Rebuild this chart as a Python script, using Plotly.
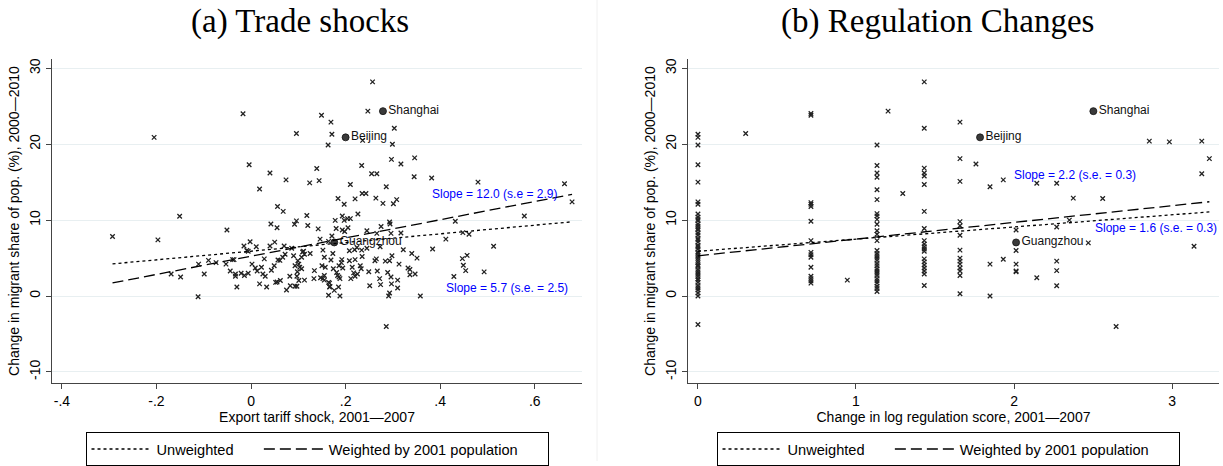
import plotly.graph_objects as go

# ---------------- Panel (a): export tariff shocks ----------------
tariff_shock = [
    -0.293, -0.205, -0.197, -0.151, -0.169, -0.149, -0.112, -0.111, -0.099, -0.090,
    -0.074, -0.051, -0.053, -0.044, -0.039, -0.036, -0.033, -0.033, -0.030, -0.021,
    -0.017, -0.015, -0.009, -0.006, -0.014, -0.006, -0.004, -0.002, 0.002, 0.011,
    0.009, 0.013, 0.018, 0.018, 0.022, 0.025, 0.030, 0.028, 0.033, 0.040,
    0.040, 0.042, 0.043, 0.050, 0.049, 0.052, 0.055, 0.056, 0.055, 0.057,
    0.061, 0.062, 0.068, 0.067, 0.070, 0.072, 0.074, 0.075, 0.082, 0.083,
    0.086, 0.090, 0.092, 0.096, 0.093, 0.097, 0.096, 0.097, 0.098, 0.099,
    0.101, 0.103, 0.101, 0.107, 0.109, 0.113, 0.113, 0.118, 0.120, 0.125,
    0.124, 0.133, 0.134, 0.139, 0.142, 0.144, 0.107, 0.093, 0.149, 0.169,
    0.171, 0.163, 0.210, 0.184, 0.197, 0.220, 0.193, 0.204, 0.210, 0.226,
    0.178, 0.197, 0.180, 0.193, 0.198, 0.205, 0.146, 0.164, 0.171, 0.257,
    0.247, 0.303, 0.299, 0.236, 0.297, 0.317, 0.346, 0.234, 0.255, 0.266,
    0.286, 0.345, 0.382, 0.480, 0.235, 0.243, 0.264, 0.279, 0.301, 0.308,
    0.275, 0.293, 0.294, 0.432, 0.578, 0.245, 0.266, 0.296, 0.317, 0.448,
    0.461, 0.412, 0.513, 0.384, 0.447, 0.457, 0.449, 0.454, 0.429, 0.493,
    0.358, 0.286, 0.340, 0.351, 0.347, 0.336, 0.332, 0.336, 0.322, 0.313,
    0.310, 0.310, 0.297, 0.296, 0.289, 0.298, 0.293, 0.284, 0.291, 0.293,
    0.274, 0.272, 0.267, 0.262, 0.265, 0.249, 0.251, 0.231, 0.233, 0.225,
    0.220, 0.211, 0.217, 0.214, 0.208, 0.220, 0.235, 0.234, 0.219, 0.208,
    0.192, 0.191, 0.186, 0.194, 0.181, 0.183, 0.186, 0.188, 0.185, 0.176,
    0.167, 0.164, 0.188, 0.166, 0.155, 0.155, 0.152, 0.147, 0.157, 0.150,
    0.169, 0.174, 0.173, 0.152, 0.111, 0.155, 0.663, 0.679, 0.164, 0.166,
    0.224, 0.273, 0.245,
]
migrant_change_a = [
    7.84, 20.9, 7.4, 10.5, 2.9, 2.5, -0.1, 4.2, 2.9, 4.7,
    4.4, 8.7, 4.2, 3.3, 4.8, 4.8, 2.9, 2.6, 1.2, 3.0,
    24.0, 6.6, 6.0, 5.9, 2.7, 3.0, 17.3, 7.15, 4.2, 6.5,
    3.7, 3.3, 14.1, 1.6, 3.8, 2.9, 2.6, 4.9, 1.2, 16.2,
    6.6, 9.5, 3.4, 7.1, 4.0, 1.8, 1.85, 11.8, 9.0, 4.75,
    4.7, 2.05, 11.15, 5.1, 6.6, 5.5, 15.3, 0.8, 2.6, 1.35,
    6.3, 5.3, 9.45, 9.9, 1.3, 1.3, 21.4, 2.6, 3.2, 4.65,
    4.2, 3.8, 2.05, 3.6, 5.8, 5.5, 2.1, 10.6, 9.3, 5.6,
    14.9, 2.3, 3.35, 16.8, 8.85, 15.2, 5.1, 4.0, 23.8, 22.9,
    21.3, 19.9, 14.7, 12.85, 12.1, 12.8, 10.55, 10.2, 10.2, 10.8,
    9.97, 9.97, 8.9, 8.7, 8.5, 9.0, 7.5, 7.2, 7.9, 28.2,
    24.35, 22.1, 20.0, 20.5, 18.0, 17.4, 18.2, 17.2, 16.1, 16.1,
    14.4, 15.7, 15.55, 15.0, 13.5, 13.5, 12.9, 12.2, 12.15, 12.7,
    9.15, 9.75, 9.5, 9.85, 10.55, 8.6, 8.25, 8.25, 8.3, 8.35,
    8.15, 7.5, 6.55, 6.2, 4.93, 5.36, 4.05, 3.35, 2.57, 3.18,
    0.0, -4.0, 5.6, 5.0, 2.9, 2.8, 3.7, 3.5, 6.1, 4.2,
    2.1, 1.05, 1.6, 2.5, 3.1, 5.3, 4.65, 4.6, 0.0, 0.4,
    1.5, 2.3, 3.3, 4.65, 4.9, 3.2, 1.35, 4.0, 3.6, 2.9,
    2.6, 2.3, 3.05, 3.8, 4.65, 4.8, 5.2, 6.05, 6.1, 5.97,
    4.8, 4.4, 4.0, 3.7, 3.1, 2.7, 2.5, 2.3, 1.2, 0.75,
    1.25, 0.1, 0.0, 1.7, 2.7, 2.1, 2.3, 2.4, 3.8, 4.0,
    4.75, 3.6, 5.6, 6.05, 5.9, 5.1, 14.8, 12.4, 1.8, 1.2,
    6.4, 6.5, 6.3,
]

city_names = ["Shanghai", "Beijing", "Guangzhou"]
city_tariff = [0.279, 0.200, 0.176]
city_change = [24.35, 20.9, 7.06]

# fitted lines for panel (a): slope, standard error, intercept
slope_a_unw, se_a_unw, icpt_a_unw = 5.7, 2.5, 5.91
slope_a_w, se_a_w, icpt_a_w = 12.0, 2.9, 5.25

# ---------------- Panel (b): regulation changes ----------------
# cities sharing the same regulation change stack up in columns
reg_levels = [0.0, 0.715, 1.133, 1.432, 1.658, 2.013]
reg_col0 = [21.3, 20.9, 19.9, 17.3, 15.0, 12.4, 12.1, 10.8, 10.4, 10.1, 9.9, 9.5,
            9.2, 8.9, 8.7, 8.3, 8.0, 7.6, 7.4, 7.1, 6.7, 6.5, 6.2, 5.8, 5.6, 5.3,
            5.0, 4.7, 4.4, 4.1, 3.9, 3.5, 3.2, 2.9, 2.6, 2.3, 2.1, 1.8, 1.4, 1.1,
            0.8, 0.4, 0.0, -3.75]
reg_col1 = [24.05, 23.8, 12.3, 12.1, 11.8, 9.85, 7.3, 5.75, 5.45, 5.1, 3.8,
            2.6, 2.3, 2.0, 1.7]
reg_col2 = [19.9, 17.2, 16.2, 15.65, 14.0, 12.7, 10.85, 10.55, 10.1, 9.45, 8.6,
            8.15, 7.3, 6.0, 5.6, 5.3, 5.0, 4.7, 4.3, 4.0, 3.6, 3.3, 3.0, 2.7,
            2.3, 2.0, 1.7, 1.3, 1.0, 0.6]
reg_col3 = [28.2, 22.1, 16.85, 16.2, 15.8, 14.7, 11.15, 8.9, 7.3, 6.85, 6.5,
            6.2, 5.9, 4.9, 4.5, 4.1, 3.7, 3.3, 2.9, 1.4]
reg_col4 = [22.9, 18.1, 15.1, 9.8, 9.25, 8.0, 6.05, 5.0, 4.6, 4.2, 3.7, 3.3,
            2.7, 0.3]
reg_col5 = [8.7, 6.0, 4.2, 3.3, 3.2]
reg_other_x = [0.302, 0.945, 1.203, 1.296, 1.759, 1.848, 1.848, 1.848, 1.932, 1.932,
               2.144, 2.144, 2.270, 2.270, 2.270, 2.270, 2.270, 2.350, 2.375, 2.561,
               2.470, 2.646, 2.856, 2.983, 3.188, 3.236, 3.188, 3.139]
reg_other_y = [21.4, 2.1, 24.35, 13.5, 17.4, 14.4, 4.2, 0.0, 15.3, 4.85,
               14.85, 2.4, 14.85, 9.1, 4.6, 3.35, 1.35, 10.0, 12.9, 12.85,
               7.0, -4.0, 20.4, 20.3, 20.4, 18.1, 16.1, 6.55]

city_reg = [2.502, 1.785, 2.013]

# fitted lines for panel (b)
slope_b_unw, se_b_unw, icpt_b_unw = 1.6, 0.3, 5.9
slope_b_w, se_b_w, icpt_b_w = 2.2, 0.3, 5.3

reg_change, migrant_change_b = [], []
for level, col in zip(reg_levels, [reg_col0, reg_col1, reg_col2,
                                   reg_col3, reg_col4, reg_col5]):
    reg_change += [level] * len(col)
    migrant_change_b += col
reg_change += reg_other_x
migrant_change_b += reg_other_y

# legend entries; trailing no-break spaces widen the legend entries
NBSP = "\u00a0"
fit_names = ["Unweighted" + NBSP * 5, "Weighted by 2001 population" + NBSP * 6]

# ---------------- styling ----------------
SANS = "Liberation Sans, Arial, sans-serif"
SERIF = "Liberation Serif, Times New Roman, serif"
W, H = 1223, 466
AX_COLOR = "#444444"
GRID = "#e8eff1"
BLUE = "#0000ff"


def px_x(p):
    return p / W


def px_y(p):
    return 1 - p / H


fig = go.Figure()

marker_x = dict(symbol="x-thin", size=4.5, color="#222222",
                line=dict(width=1.3, color="#222222"))
city_marker = dict(symbol="circle", size=7, color="#3a3a3a",
                   line=dict(width=0.8, color="#111111"))


def add_panel(xs, ys, cx, cy, fits, xref, yref, legend):
    fig.add_trace(go.Scatter(x=xs, y=ys, mode="markers", marker=marker_x,
                             xaxis=xref, yaxis=yref, showlegend=False,
                             hoverinfo="skip"))
    fig.add_trace(go.Scatter(x=cx, y=cy, mode="markers+text", text=city_names,
                             textposition="middle right",
                             textfont=dict(family=SANS, size=12, color="#111111"),
                             marker=city_marker, xaxis=xref, yaxis=yref,
                             showlegend=False, hoverinfo="skip"))
    all_x = xs + cx
    x0, x1 = min(all_x), max(all_x)
    for name, slope, icpt, dash in fits:
        fig.add_trace(go.Scatter(
            x=[x0, x1], y=[icpt + slope * x0, icpt + slope * x1],
            mode="lines", name=name,
            line=dict(color="black", width=1.3, dash=dash),
            xaxis=xref, yaxis=yref, legend=legend, hoverinfo="skip"))


add_panel(tariff_shock, migrant_change_a, city_tariff, city_change,
          [(fit_names[0], slope_a_unw, icpt_a_unw, "3px,3px"),
           (fit_names[1], slope_a_w, icpt_a_w, "11px,5px")],
          "x", "y", "legend")
add_panel(reg_change, migrant_change_b, city_reg, city_change,
          [(fit_names[0], slope_b_unw, icpt_b_unw, "3px,3px"),
           (fit_names[1], slope_b_w, icpt_b_w, "11px,5px")],
          "x2", "y2", "legend2")

# slope annotations
slope_notes = [
    ("x", "y", 0.379, 13.5, f"Slope = {slope_a_w:.1f} (s.e = {se_a_w:.1f})"),
    ("x", "y", 0.408, 1.1, f"Slope = {slope_a_unw:.1f} (s.e. = {se_a_unw:.1f})"),
    ("x2", "y2", 1.987, 16.0, f"Slope = {slope_b_w:.1f} (s.e. = {se_b_w:.1f})"),
    ("x2", "y2", 2.50, 9.0, f"Slope = {slope_b_unw:.1f} (s.e. = {se_b_unw:.1f})"),
]
for xr, yr, xv, yv, txt in slope_notes:
    fig.add_annotation(x=xv, y=yv, xref=xr, yref=yr, text=txt, showarrow=False,
                       xanchor="left", yanchor="middle",
                       font=dict(family=SANS, size=12, color=BLUE))

# panel titles
for xc, txt in [(300, "(a) Trade shocks"), (937, "(b) Regulation Changes")]:
    fig.add_annotation(x=px_x(xc), y=px_y(22), xref="paper", yref="paper",
                       text=txt, showarrow=False, xanchor="center",
                       yanchor="middle",
                       font=dict(family=SERIF, size=33, color="black"))

# faint divider between the two graphs
fig.add_shape(type="line", xref="paper", yref="paper", x0=px_x(597),
              x1=px_x(597), y0=0, y1=1, line=dict(color="#f0f0f0", width=1))

y_title = "Change in migrant share of pop. (%), 2000\u20142010"
common_y = dict(range=[-11.43, 31.17], tickvals=[-10, 0, 10, 20, 30],
                ticktext=["-10", "0", "10", "20", "30"], tickangle=-90,
                showgrid=True, gridcolor=GRID, gridwidth=1, zeroline=False,
                showline=True, linecolor=AX_COLOR, linewidth=1,
                ticks="outside", ticklen=5, tickcolor=AX_COLOR,
                tickfont=dict(family=SANS, size=14, color="black"),
                title=dict(text=y_title, standoff=4,
                           font=dict(family=SANS, size=14, color="black")),
                domain=[px_y(387), px_y(60)])
common_x = dict(showgrid=False, zeroline=False, showline=True,
                linecolor=AX_COLOR, linewidth=1, ticks="outside", ticklen=5,
                tickcolor=AX_COLOR,
                tickfont=dict(family=SANS, size=14, color="black"))
legend_style = dict(orientation="h", xanchor="center", y=px_y(437),
                    yanchor="top", bordercolor="black", borderwidth=1,
                    bgcolor="white",
                    font=dict(family=SANS, size=14.6, color="black"),
                    entrywidth=0, itemwidth=60)

fig.update_layout(
    width=W, height=H, margin=dict(l=0, r=0, t=0, b=0),
    paper_bgcolor="white", plot_bgcolor="white",
    xaxis=dict(common_x, domain=[px_x(52), px_x(582)], range=[-0.421, 0.700],
               tickvals=[-0.4, -0.2, 0, 0.2, 0.4, 0.6],
               ticktext=["-.4", "-.2", "0", ".2", ".4", ".6"],
               title=dict(text="Export tariff shock, 2001\u20142007", standoff=2,
                          font=dict(family=SANS, size=14, color="black")),
               anchor="y"),
    yaxis=dict(common_y, anchor="x"),
    xaxis2=dict(common_x, domain=[px_x(688), px_x(1219)], range=[-0.063, 3.297],
                tickvals=[0, 1, 2, 3], ticktext=["0", "1", "2", "3"],
                title=dict(text="Change in log regulation score, 2001\u20142007",
                           standoff=2,
                           font=dict(family=SANS, size=14, color="black")),
                anchor="y2"),
    yaxis2=dict(common_y, anchor="x2"),
    legend=dict(legend_style, x=px_x(317)),
    legend2=dict(legend_style, x=px_x(948)),
)

fig.write_html("out.html")
